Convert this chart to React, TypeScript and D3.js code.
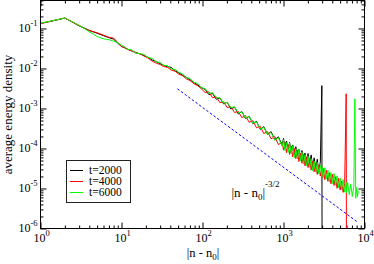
import React, { useEffect, useRef } from 'react';
import * as d3 from 'd3';

// |n - n0| sample positions shared by all three runs
const nValues = [
  1, 2, 3, 4, 5, 6, 7, 8, 9, 10,
  11, 12, 13, 15, 17, 19, 21, 24, 27, 30, 33, 37, 41, 46, 51, 57, 63, 70, 78, 87, 97,
  108, 120, 133, 148, 164, 182, 202, 224, 249, 276, 306, 340, 377, 418, 464, 515, 571, 634, 703, 780, 866, 960,
  1000, 1045, 1090, 1140, 1190, 1245, 1300, 1360, 1420, 1485, 1550, 1620, 1690, 1765, 1845, 1925, 2010, 2100,
  2195, 2290, 2390, 2500, 2610, 2725, 2850, 2975, 3000,
  3100, 3240, 3385, 3535, 3690, 3855, 4025, 4205, 4390, 4585, 4790, 5000, 5220, 5450, 5690, 5940, 6000,
  6200, 6480, 6770, 7070, 7380, 7600, 7800, 8000, 8200, 8400,
];

const density2000 = [
  1.33e-1, 1.82e-1, 1.17e-1, 8.9e-2, 7.6e-2, 6.6e-2, 5.9e-2, 5.4e-2, 4.27e-2, 3.55e-2,
  3.31e-2, 3.02e-2, 2.82e-2, 2.51e-2, 2.29e-2, 2.09e-2, 1.91e-2, 1.62e-2, 1.48e-2, 1.32e-2, 1.2e-2, 1.1e-2,
  1.07e-2, 8.7e-3, 7.76e-3, 6.76e-3, 6.03e-3, 5.25e-3, 4.47e-3, 3.89e-3, 3.31e-3,
  2.99e-3, 2.21e-3, 2.37e-3, 1.7e-3, 1.84e-3, 1.3e-3, 1.43e-3, 9.7e-4, 1.08e-3, 7.3e-4, 8.37e-4, 5.6e-4,
  6.35e-4, 4.2e-4, 4.79e-4, 3.0e-4, 3.51e-4, 2.25e-4, 2.63e-4, 1.65e-4, 1.96e-4, 1.2e-4,
  1.78e-4, 9.8e-5, 1.54e-4, 8.9e-5, 1.42e-4, 7.7e-5, 1.23e-4, 6.9e-5, 1.11e-4, 6.3e-5, 9.6e-5, 5.42e-5,
  8.9e-5, 4.92e-5, 7.7e-5, 4.27e-5, 7.5e-5, 3.85e-5, 6.9e-5, 3.33e-5, 5.85e-5, 3.01e-5, 5.4e-5, 2.74e-5,
  4.56e-5, 3.72e-3, 1e-8,
];

const density4000 = [
  1.32e-1, 1.82e-1, 1.17e-1, 8.9e-2, 7.8e-2, 6.8e-2, 6.0e-2, 5.75e-2, 4.47e-2, 3.55e-2,
  3.24e-2, 2.95e-2, 2.82e-2, 2.45e-2, 2.34e-2, 2.04e-2, 1.86e-2, 1.51e-2, 1.35e-2, 1.26e-2, 1.12e-2, 1.07e-2,
  9.1e-3, 8.5e-3, 7.2e-3, 6.6e-3, 5.5e-3, 5.0e-3, 4.17e-3, 3.72e-3, 3.09e-3,
  2.5e-3, 2.6e-3, 1.85e-3, 1.96e-3, 1.4e-3, 1.46e-3, 1.05e-3, 1.12e-3, 7.9e-4, 8.5e-4, 5.9e-4, 6.6e-4,
  4.5e-4, 4.95e-4, 3.3e-4, 3.6e-4, 2.36e-4, 2.65e-4, 1.75e-4, 1.98e-4, 1.25e-4, 1.45e-4,
  9.1e-5, 1.46e-4, 7.9e-5, 1.26e-4, 7.1e-5, 1.16e-4, 6.2e-5, 1.0e-4, 5.56e-5, 9.1e-5, 4.7e-5, 7.66e-5,
  4.26e-5, 7.1e-5, 3.67e-5, 6.2e-5, 3.33e-5, 5.57e-5, 2.88e-5, 4.8e-5, 2.61e-5, 4.36e-5, 2.25e-5, 3.78e-5,
  2.04e-5, 3.4e-5, 1.89e-5,
  3.15e-5, 1.66e-5, 2.85e-5, 1.51e-5, 2.48e-5, 1.31e-5, 2.25e-5, 1.19e-5, 1.96e-5, 1.01e-5, 1.78e-5, 9.2e-6,
  1.54e-5, 8.0e-6, 1.34e-5, 2.34e-3, 1e-8,
];

const density6000 = [
  1.35e-1, 1.82e-1, 1.2e-1, 8.3e-2, 6.3e-2, 5.5e-2, 5.25e-2, 4.8e-2, 4.4e-2, 3.8e-2,
  3.44e-2, 2.99e-2, 3.0e-2, 2.43e-2, 2.36e-2, 2.24e-2, 1.9e-2, 1.78e-2, 1.44e-2, 1.42e-2, 1.2e-2, 1.18e-2,
  9.7e-3, 9.5e-3, 8.05e-3, 7.3e-3, 5.83e-3, 5.7e-3, 4.5e-3, 4.27e-3, 3.29e-3,
  3.15e-3, 2.4e-3, 2.48e-3, 1.86e-3, 1.84e-3, 1.36e-3, 1.42e-3, 1.05e-3, 1.1e-3, 7.8e-4, 8.2e-4, 5.8e-4,
  6.3e-4, 4.35e-4, 4.65e-4, 3.1e-4, 3.35e-4, 2.22e-4, 2.5e-4, 1.6e-4, 1.86e-4, 1.15e-4,
  1.66e-4, 8.77e-5, 1.4e-4, 7.94e-5, 1.36e-4, 7.35e-5, 1.17e-4, 5.9e-5, 9.9e-5, 5.46e-5, 9.6e-5, 4.94e-5,
  8.1e-5, 4.09e-5, 7.0e-5, 3.72e-5, 6.5e-5, 3.36e-5, 5.61e-5, 2.77e-5, 4.86e-5, 2.56e-5, 4.49e-5, 2.33e-5,
  3.88e-5, 1.96e-5, 3.37e-5,
  1.9e-5, 3.32e-5, 1.72e-5, 2.88e-5, 1.46e-5, 2.5e-5, 1.33e-5, 2.38e-5, 1.21e-5, 2.07e-5, 1.05e-5, 1.84e-5,
  9.5e-6, 1.67e-5, 8.1e-6, 1.42e-5, 7.9e-6,
  1.41e-5, 6.97e-6, 1.28e-5, 6.3e-6, 1.14e-5, 1.74e-3, 5.7e-6, 1.06e-5, 6.3e-6, 8.7e-6,
];

// |n - n0|^-3/2 guide
const guideN = [49, 8200];
const guideValues = [3.1e-3, 1.45e-6];

const xTickPowers = [0, 1, 2, 3, 4];
const yTickPowers = [-6, -5, -4, -3, -2, -1];
const seriesLabels = ['t=2000', 't=4000', 't=6000'];
const seriesColors = ['#000000', '#ff0000', '#00ff00'];

const FONT = "'Liberation Serif', 'Times New Roman', serif";

const App = () => {
  const svgRef = useRef<SVGSVGElement>(null);

  useEffect(() => {
    const svg = d3.select(svgRef.current);
    svg.selectAll('*').remove();

    const left = 40.5, right = 364.5, top = 0.5, bottom = 228.5;

    const x = d3.scaleLog().domain([1, 1e4]).range([left, right]);
    const y = d3.scaleLog().domain([1e-6, 0.5]).range([bottom, top]);

    svg.append('defs').append('clipPath').attr('id', 'plot-clip')
      .append('rect')
      .attr('x', left).attr('y', top)
      .attr('width', right - left).attr('height', bottom - top);

    const minorX: number[] = [];
    xTickPowers.slice(0, -1).forEach((p) => {
      for (let k = 2; k <= 9; k++) minorX.push(k * 10 ** p);
    });
    const minorY: number[] = [];
    yTickPowers.forEach((p) => {
      for (let k = 2; k <= 9; k++) if (k * 10 ** p <= 0.5) minorY.push(k * 10 ** p);
    });
    const majorX = xTickPowers.map((p) => 10 ** p);
    const majorY = yTickPowers.map((p) => 10 ** p);

    const drawAxis = (axis: any, transform: string) => {
      const g = svg.append('g').attr('transform', transform).call(axis);
      g.select('.domain').remove();
      g.selectAll('line').attr('stroke', '#000').attr('stroke-width', 1);
    };

    // inward ticks on all four sides
    drawAxis(d3.axisBottom(x).tickValues(majorX).tickSize(-6).tickFormat(() => ''), `translate(0,${bottom})`);
    drawAxis(d3.axisBottom(x).tickValues(minorX).tickSize(-3).tickFormat(() => ''), `translate(0,${bottom})`);
    drawAxis(d3.axisTop(x).tickValues(majorX).tickSize(-6).tickFormat(() => ''), `translate(0,${top})`);
    drawAxis(d3.axisTop(x).tickValues(minorX).tickSize(-3).tickFormat(() => ''), `translate(0,${top})`);
    drawAxis(d3.axisLeft(y).tickValues(majorY).tickSize(-6).tickFormat(() => ''), `translate(${left},0)`);
    drawAxis(d3.axisLeft(y).tickValues(minorY).tickSize(-3).tickFormat(() => ''), `translate(${left},0)`);
    drawAxis(d3.axisRight(y).tickValues(majorY).tickSize(-6).tickFormat(() => ''), `translate(${right},0)`);
    drawAxis(d3.axisRight(y).tickValues(minorY).tickSize(-3).tickFormat(() => ''), `translate(${right},0)`);

    const plot = svg.append('g').attr('clip-path', 'url(#plot-clip)');

    const line = d3.line<[number, number]>()
      .x((d) => x(d[0]))
      .y((d) => y(d[1]));

    [density2000, density4000, density6000].forEach((vals, i) => {
      const pts = vals.map((v, j) => [nValues[j], v] as [number, number]);
      plot.append('path')
        .attr('d', line(pts))
        .attr('fill', 'none')
        .attr('stroke', seriesColors[i])
        .attr('stroke-width', 1)
        .attr('stroke-linejoin', 'round');
    });

    plot.append('path')
      .attr('d', line(guideN.map((n, i) => [n, guideValues[i]] as [number, number])))
      .attr('fill', 'none')
      .attr('stroke', '#0000ff')
      .attr('stroke-width', 1)
      .attr('stroke-dasharray', '2.5,2');

    // frame
    svg.append('rect')
      .attr('x', left).attr('y', top)
      .attr('width', right - left).attr('height', bottom - top)
      .attr('fill', 'none').attr('stroke', '#000').attr('stroke-width', 1);

    // x tick labels
    xTickPowers.forEach((p) => {
      const t = svg.append('text')
        .attr('x', x(10 ** p) + 1)
        .attr('y', 242)
        .attr('text-anchor', 'middle')
        .style('font-family', FONT)
        .style('font-size', '12px');
      t.append('tspan').text('10');
      t.append('tspan').attr('dy', -6).style('font-size', '8.5px').text(String(p));
    });

    // y tick labels
    yTickPowers.forEach((p) => {
      const t = svg.append('text')
        .attr('x', 37.5)
        .attr('y', y(10 ** p) + 3.5)
        .attr('text-anchor', 'end')
        .style('font-family', FONT)
        .style('font-size', '12px');
      t.append('tspan').text('10');
      t.append('tspan').attr('dy', -6).style('font-size', '8.5px').text(String(p));
    });

    // axis titles
    const xt = svg.append('text')
      .attr('x', 203).attr('y', 257)
      .attr('text-anchor', 'middle')
      .style('font-family', FONT).style('font-size', '12.5px');
    xt.append('tspan').text('|n - n');
    xt.append('tspan').attr('dy', 3).style('font-size', '9px').text('0');
    xt.append('tspan').attr('dy', -3).text('|');

    svg.append('text')
      .attr('transform', `translate(12,${(top + bottom) / 2}) rotate(-90)`)
      .attr('text-anchor', 'middle')
      .style('font-family', FONT).style('font-size', '13px')
      .text('average energy density');

    // annotation for the guide line
    const ann = svg.append('text')
      .attr('x', 231.5).attr('y', 197)
      .style('font-family', FONT).style('font-size', '13px');
    ann.append('tspan').text('|n - n');
    ann.append('tspan').attr('dy', 3).style('font-size', '9px').text('0');
    ann.append('tspan').attr('dy', -3).text('|');
    ann.append('tspan').attr('dy', -10).style('font-size', '9px').text('-3/2');

    // legend
    const legend = svg.append('g');
    legend.append('rect')
      .attr('x', 66.5).attr('y', 160.5)
      .attr('width', 64).attr('height', 42)
      .attr('fill', '#fff').attr('stroke', '#222').attr('stroke-width', 1);

    seriesLabels.forEach((label, i) => {
      const ry = 170.5 + i * 11;
      legend.append('line')
        .attr('x1', 70).attr('x2', 83)
        .attr('y1', ry).attr('y2', ry)
        .attr('stroke', seriesColors[i]).attr('stroke-width', 1);
      legend.append('text')
        .attr('x', 89).attr('y', ry + 3.5)
        .style('font-family', FONT).style('font-size', '11.5px')
        .text(label);
    });
  }, []);

  return (
    <svg
      ref={svgRef}
      width={374}
      height={264}
      style={{ position: 'absolute', left: 0, top: 0, background: '#fff' }}
    />
  );
};

export default App;
